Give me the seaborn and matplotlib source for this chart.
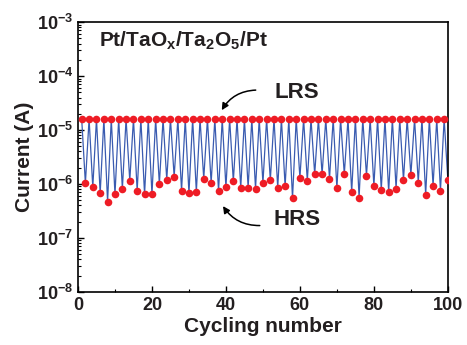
import numpy as np
import pandas as pd
import matplotlib
matplotlib.use('Agg')
import matplotlib.pyplot as plt
from matplotlib.ticker import LogLocator, MultipleLocator, NullFormatter
import seaborn as sns

# LRS read at odd cycles, HRS at even cycles
lrs = [1.6e-5, 1.6e-5, 1.6e-5, 1.6e-5, 1.6e-5, 1.6e-5, 1.6e-5, 1.6e-5, 1.6e-5, 1.6e-5,
       1.6e-5, 1.6e-5, 1.6e-5, 1.6e-5, 1.6e-5, 1.6e-5, 1.6e-5, 1.6e-5, 1.6e-5, 1.6e-5,
       1.6e-5, 1.6e-5, 1.6e-5, 1.6e-5, 1.6e-5, 1.6e-5, 1.6e-5, 1.6e-5, 1.6e-5, 1.6e-5,
       1.6e-5, 1.6e-5, 1.6e-5, 1.6e-5, 1.6e-5, 1.6e-5, 1.6e-5, 1.6e-5, 1.6e-5, 1.6e-5,
       1.6e-5, 1.6e-5, 1.6e-5, 1.6e-5, 1.6e-5, 1.6e-5, 1.6e-5, 1.6e-5, 1.6e-5, 1.6e-5]
hrs = [1.03e-6, 0.87e-6, 0.67e-6, 0.47e-6, 0.64e-6, 0.81e-6, 1.15e-6, 0.75e-6, 0.64e-6, 0.64e-6,
       0.99e-6, 1.20e-6, 1.36e-6, 0.75e-6, 0.67e-6, 0.71e-6, 1.25e-6, 1.04e-6, 0.73e-6, 0.86e-6,
       1.12e-6, 0.85e-6, 0.85e-6, 0.82e-6, 1.04e-6, 1.18e-6, 0.85e-6, 0.91e-6, 0.54e-6, 1.29e-6,
       1.14e-6, 1.51e-6, 1.51e-6, 1.24e-6, 0.83e-6, 1.51e-6, 0.71e-6, 0.56e-6, 1.42e-6, 0.92e-6,
       0.78e-6, 0.71e-6, 0.82e-6, 1.18e-6, 1.46e-6, 1.06e-6, 0.63e-6, 0.93e-6, 0.75e-6, 1.18e-6]

cycles = np.arange(1, 101)
current = np.empty(100)
current[0::2] = lrs
current[1::2] = hrs
df = pd.DataFrame({'cycle': cycles, 'current': current})

sns.set_theme(style='ticks')
plt.rcParams['font.family'] = ['Liberation Sans', 'DejaVu Sans']
plt.rcParams['font.weight'] = 'bold'
plt.rcParams['mathtext.fontset'] = 'custom'
plt.rcParams['mathtext.rm'] = 'Liberation Sans:bold'
plt.rcParams['mathtext.bf'] = 'Liberation Sans:bold'
plt.rcParams['mathtext.default'] = 'bf'

txt = '#231f20'
fig = plt.figure(figsize=(4.67, 3.45), dpi=100)
ax = fig.add_axes([0.167, 0.154, 0.792, 0.782])

sns.lineplot(data=df, x='cycle', y='current', ax=ax, color='#3a5bb0', linewidth=0.9)
sns.scatterplot(data=df, x='cycle', y='current', ax=ax, color='#ee1c25',
                s=30, linewidth=0, zorder=3)

ax.set_yscale('log')
ax.set_xlim(0, 100)
ax.set_ylim(1e-8, 1e-3)
ax.xaxis.set_major_locator(MultipleLocator(20))
ax.xaxis.set_minor_locator(MultipleLocator(10))
ax.yaxis.set_major_locator(LogLocator(base=10, numticks=10))
ax.yaxis.set_minor_locator(LogLocator(base=10, subs=np.arange(2, 10), numticks=20))
ax.yaxis.set_minor_formatter(NullFormatter())
ax.tick_params(which='both', direction='in', top=False, right=False, colors='black',
               labelcolor=txt, labelsize=13)
ax.tick_params(which='major', length=4, width=1)
ax.tick_params(which='minor', length=2.5, width=0.8)
for sp in ax.spines.values():
    sp.set_linewidth(1.2)
    sp.set_color('black')

ax.set_xlabel('Cycling number', fontsize=15, fontweight='bold', color=txt, labelpad=2)
ax.set_ylabel('Current (A)', fontsize=15, fontweight='bold', color=txt, labelpad=2)

ax.text(0.058, 0.909, r'Pt/TaO$_x$/Ta$_2$O$_5$/Pt', transform=ax.transAxes,
        fontsize=15, fontweight='bold', color=txt, va='baseline')
ax.text(53.1, 3.9e-5, 'LRS', fontsize=16, fontweight='bold', color=txt, va='baseline')
ax.text(52.8, 1.7e-7, 'HRS', fontsize=16, fontweight='bold', color=txt, va='baseline')
ax.annotate('', xy=(38.5, 2.1e-5), xytext=(48.8, 5.5e-5),
            arrowprops=dict(arrowstyle='-|>', color='black', lw=1.1,
                            connectionstyle='arc3,rad=0.3', mutation_scale=10))
ax.annotate('', xy=(38.8, 4.3e-7), xytext=(49.9, 1.7e-7),
            arrowprops=dict(arrowstyle='-|>', color='black', lw=1.1,
                            connectionstyle='arc3,rad=-0.3', mutation_scale=10))

fig.savefig('out.png', dpi=100)
